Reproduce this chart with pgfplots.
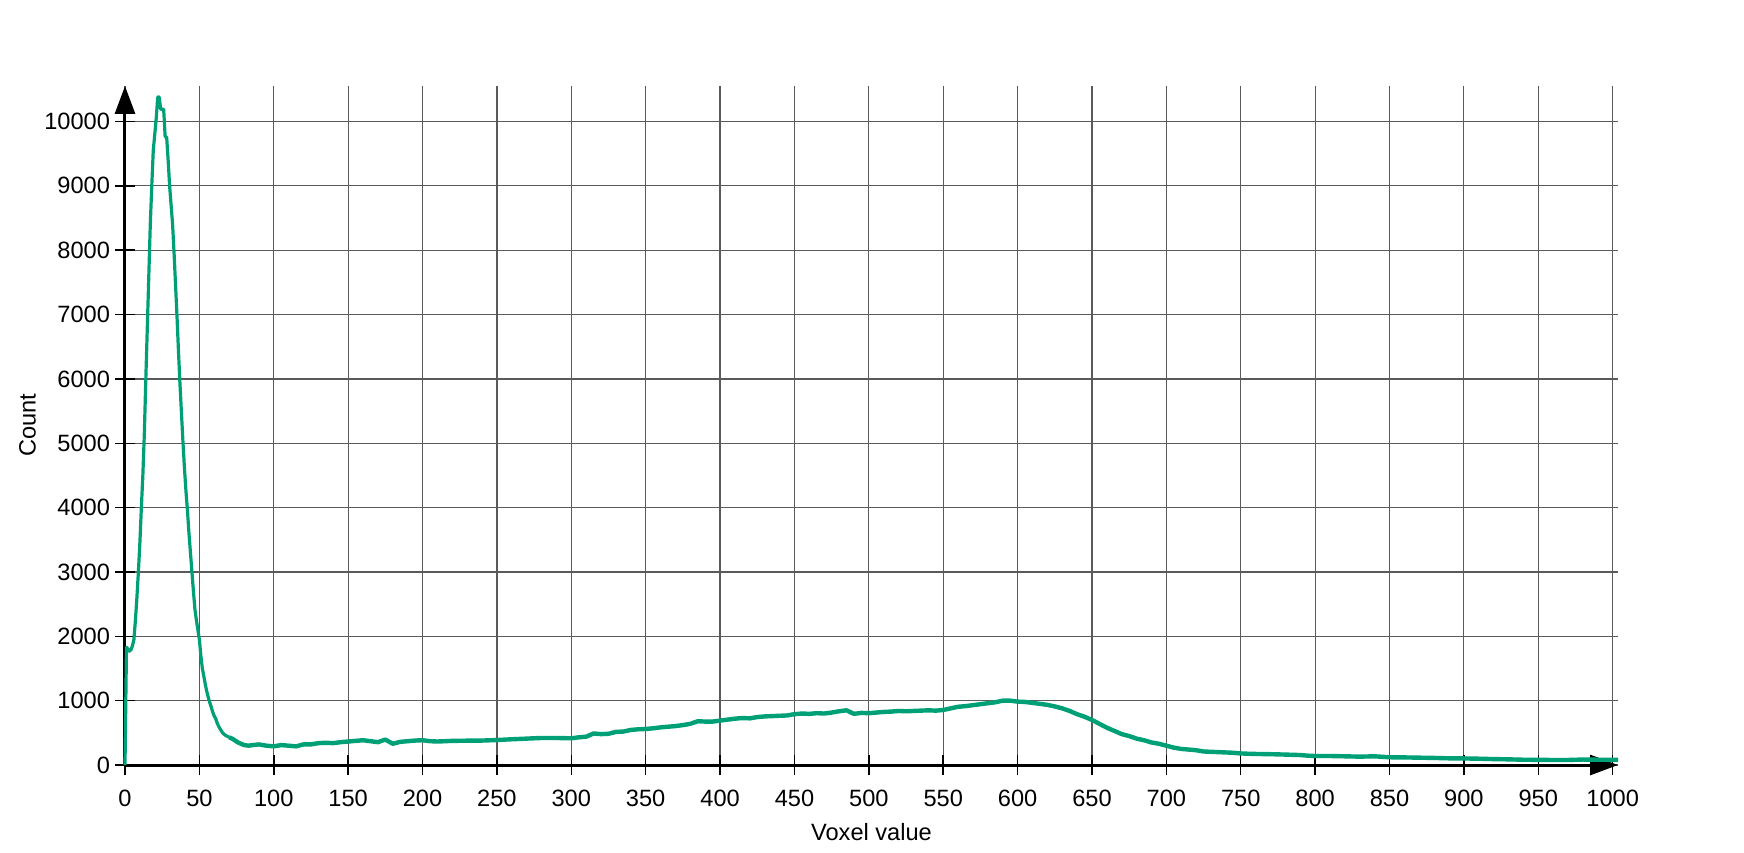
\documentclass[border=0pt]{standalone}
\usepackage{fontspec}
\setmainfont{Liberation Sans}
\usepackage{pgfplots}
\pgfplotsset{compat=1.18}
\usetikzlibrary{arrows.meta}
\definecolor{histgreen}{HTML}{00A077}
\definecolor{gridgrey}{HTML}{5A5A5A}
\begin{document}
\begin{tikzpicture}
\path[use as bounding box] (-62.5pt,-43.5pt) rectangle (809.5pt,382.5pt);
\begin{axis}[
  at={(0pt,0pt)}, anchor=origin,
  scale only axis,
  width=746.5pt, height=339.5pt,
  xmin=0, xmax=1003.6, ymin=0, ymax=10552,
  axis lines=left,
  axis line style={black, line width=1.5pt, -{Triangle[length=14pt,width=10pt]}},
  xtick={0,50,...,1000},
  ytick={0,1000,...,10000},
  grid=major,
  major grid style={gridgrey, line width=0.6pt},
  tick align=center,
  major tick length=10pt,
  tick style={black, line width=0.75pt},
  font=\fontsize{11.8}{14}\selectfont,
  ticklabel style={font=\fontsize{11.8}{14}\selectfont},
  /pgf/number format/assume math mode=true,
  scaled ticks=false,
  xticklabel style={/pgf/number format/set thousands separator={}, yshift=-4pt},
  yticklabel style={/pgf/number format/set thousands separator={}, xshift=1pt},
  xlabel={Voxel value},
  ylabel={Count},
  every axis x label/.style={at={(axis description cs:0.5,0)}, yshift=-33.5pt, anchor=center},
  every axis y label/.style={at={(axis description cs:0,0.5)}, xshift=-48.75pt, rotate=90, anchor=center},
  clip=false,
]
\addplot[histgreen, line width=1.6pt, line join=round] coordinates {
(0,0) (1,1830) (2,1800) (3,1770) (4,1790) (5,1850) (6,1950) (7,2250) (8,2600) (9,3000)
(10,3450) (11,4000) (12,4500) (13,5150) (14,6000) (15,6800) (16,7600) (17,8400) (18,9000) (19,9550)
(20,9800) (21,10050) (22,10380) (23,10380) (24,10190) (25,10190) (26,10190) (27,9760) (28,9760) (29,9400)
(30,9000) (31,8700) (32,8400) (33,7950) (34,7450) (35,6950) (36,6400) (37,5900) (38,5450) (39,5000)
(40,4600) (41,4250) (42,3950) (43,3600) (44,3300) (45,3000) (46,2700) (47,2420) (48,2250) (49,2100)
(50,1950) (51,1700) (52,1500) (53,1380) (54,1250) (55,1140) (56,1050) (57,970) (58,900) (59,820)
(60,760) (61,720) (62,650) (63,600) (64,560) (65,520) (66,490) (67,470) (68,455) (70,430)
};
\addplot[histgreen, line width=2.2pt, line join=round] coordinates {
(70,430) (72,410) (74,380) (76,350) (78,330) (80,310) (83,300) (86,310) (90,320) (95,300)
(100,290) (105,310) (110,300) (115,290) (120,320) (125,320) (130,340) (135,345) (140,340) (145,355)
(150,365) (155,375) (160,385) (165,370) (170,355) (175,395) (180,330) (185,360) (190,370) (195,380)
(200,385) (205,370) (210,365) (220,375) (230,378) (240,380) (250,388) (260,400) (270,410) (280,420)
(290,420) (300,415) (305,430) (310,440) (315,490) (320,480) (325,485) (330,515) (335,520) (340,545)
(345,555) (350,560) (355,570) (360,585) (365,595) (370,605) (375,620) (380,640) (385,680) (390,675)
(395,675) (400,690) (405,705) (410,720) (415,730) (420,725) (425,745) (430,755) (435,760) (440,765)
(445,770) (450,790) (455,800) (460,795) (465,805) (470,800) (475,815) (480,835) (485,850) (490,795)
(495,810) (500,805) (505,815) (510,825) (515,830) (520,840) (525,835) (530,840) (535,845) (540,850)
(545,845) (550,855) (555,880) (560,905) (565,915) (570,930) (575,945) (580,960) (585,975) (590,1000)
(595,1000) (600,985) (605,980) (610,965) (615,950) (620,935) (625,910) (630,880) (635,840) (640,790)
(645,750) (650,700) (655,640) (660,580) (665,530) (670,480) (675,450) (680,410) (685,385) (690,350)
(695,330) (700,300) (705,270) (710,250) (715,240) (720,230) (725,210) (730,205) (735,200) (740,195)
(745,190) (750,180) (755,175) (760,172) (765,170) (770,168) (775,165) (780,162) (785,158) (790,155)
(795,145) (800,140) (810,140) (820,135) (830,130) (840,135) (850,120) (860,118) (870,114) (880,110)
(890,104) (900,102) (910,98) (920,92) (930,88) (940,82) (950,80) (960,78) (970,78) (980,85)
(990,82) (1000,80) (1003.6,80)
};
\end{axis}
\end{tikzpicture}
\end{document}
